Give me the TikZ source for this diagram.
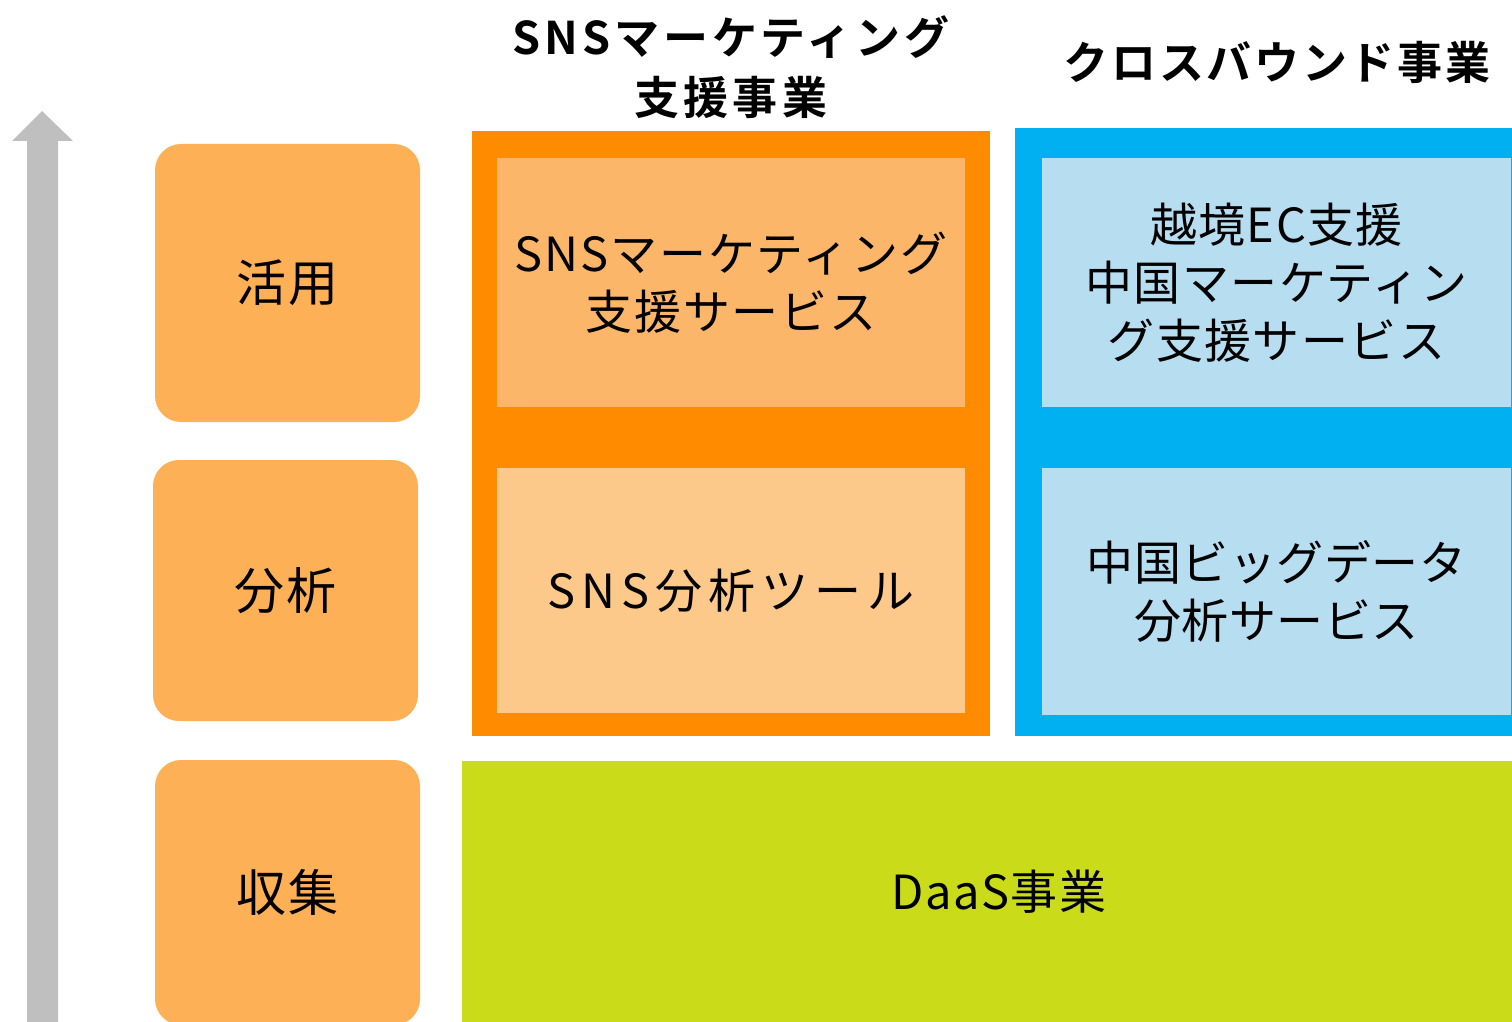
\documentclass[tikz,border=0pt]{standalone}
\usepackage{fontspec}
\setmainfont{Noto Sans CJK JP}
\newfontfamily\headfont{Noto Sans CJK JP Bold}
\newcommand\setLS[1]{\addfontfeature{LetterSpace=#1}}
\definecolor{cOrange}{HTML}{FF8C00}
\definecolor{cOrLightA}{HTML}{FCB66A}
\definecolor{cOrLightB}{HTML}{FDC98B}
\definecolor{cLeft}{HTML}{FEB056}
\definecolor{cBlue}{HTML}{00B0F0}
\definecolor{cBlueLight}{HTML}{B7DDF0}
\definecolor{cGreen}{HTML}{CADB1A}
\definecolor{cGray}{HTML}{BFBFBF}
\begin{document}
\begin{tikzpicture}[x=1pt,y=-1pt,
  box/.style={rectangle,inner sep=0pt,outer sep=0pt,text=black,align=center},
  bodyls/.style={font={\setLS{#1}\fontsize{47}{58}\selectfont}},
  leftbox/.style={box,fill=cLeft,rounded corners=26pt,font={\setLS{4}\fontsize{50}{60}\selectfont}},
  head/.style={text=black,align=center,inner sep=0pt,font={\headfont\setLS{#1}\fontsize{45}{60}\selectfont}}]
\useasboundingbox (0,0) rectangle (1512,1022);
\clip (0,0) rectangle (1512,1022);
% arrow
\fill[cGray] (42,111) -- (73,141) -- (58,141) -- (58,1040) -- (27,1040) -- (27,141) -- (12,141) -- cycle;
% left boxes
\node[leftbox,minimum width=265pt,minimum height=278pt] (use) at (287.5,283) {活用};
\node[leftbox,minimum width=265pt,minimum height=261pt] (ana) at (285.5,590.5) {分析};
\node[leftbox,minimum width=265pt,minimum height=265pt] (col) at (287.5,892.5) {収集};
% orange group
\node[box,fill=cOrange,minimum width=518pt,minimum height=605pt] (sns) at (731,433.5) {};
\node[box,bodyls=4,fill=cOrLightA,minimum width=468pt,minimum height=249pt] (snsA) at (731,282.5) {SNSマーケティング\\支援サービス};
\node[box,bodyls=13,fill=cOrLightB,minimum width=468pt,minimum height=245pt] (snsB) at (731,590.5) {SNS分析ツール};
% blue group
\node[box,fill=cBlue,minimum width=520pt,minimum height=608pt] (cb) at (1275,432) {};
\node[box,bodyls=3,fill=cBlueLight,minimum width=469pt,minimum height=249pt] (cbA) at (1276.5,282.5) {越境EC支援\\中国マーケティン\\グ支援サービス};
\node[box,bodyls=1,fill=cBlueLight,minimum width=469pt,minimum height=247pt] (cbB) at (1276.5,591.5) {中国ビッグデータ\\分析サービス};
% green
\node[box,fill=cGreen,minimum width=1074pt,minimum height=290pt] (daas) at (999,906) {};
\node[box,bodyls=3] (daasT) at (999,892) {DaaS事業};
% headings
\node[head=9] (h1) at (731,67) {SNSマーケティング\\支援事業};
\node[head=6] (h2) at (1277,62) {クロスバウンド事業};
\end{tikzpicture}
\end{document}
